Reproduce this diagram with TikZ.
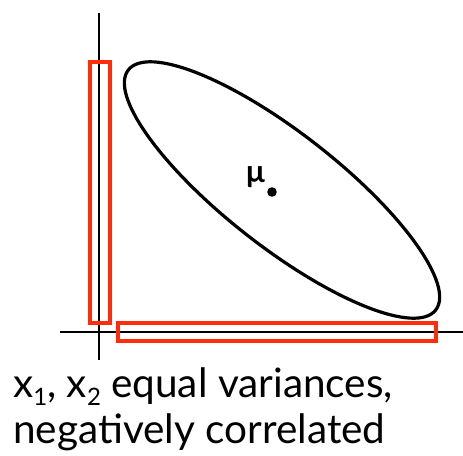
\documentclass[tikz,border=0pt]{standalone}
\usepackage{fontspec}
\setmainfont{Lato}
\definecolor{boxred}{RGB}{255,45,10}
\newcommand{\mysub}[1]{\raisebox{-8pt}{\fontsize{24}{24}\selectfont #1}}
\begin{document}
\begin{tikzpicture}[x=1pt,y=-1pt,
  axis/.style={line width=1.8pt,black},
  redbox/.style={draw=boxred,line width=4pt,inner sep=0pt},
  caption/.style={anchor=base west,inner sep=0pt,align=left,font=\fontsize{40.5}{46}\selectfont}]
\useasboundingbox (0,0) rectangle (463,455);
% axes
\coordinate (vt) at (99,13);
\coordinate (vb) at (99,360);
\coordinate (hl) at (60,332);
\coordinate (hr) at (463,332);
\draw[axis] (vt) -- (vb);
\draw[axis] (hl) -- (hr);
% red boxes
\node[redbox,minimum width=20pt,minimum height=261pt] (vbox) at (99.5,192.5) {};
\node[redbox,minimum width=318pt,minimum height=18pt] (hbox) at (277,332) {};
% ellipse
\draw[line width=3.2pt,rotate around={-38:(282,190)}] (282,190) ellipse [x radius=195, y radius=57];
% mean
\fill (272,192) circle [radius=4.8];
\node[anchor=base,inner sep=0pt,font=\fontsize{31}{31}\selectfont\bfseries] (mu) at (255.5,182) {μ};
% caption
\node[caption] (cap) at (13,443) {x\mysub{1}, x\mysub{2} equal variances,\\negatively correlated};
\end{tikzpicture}
\end{document}
